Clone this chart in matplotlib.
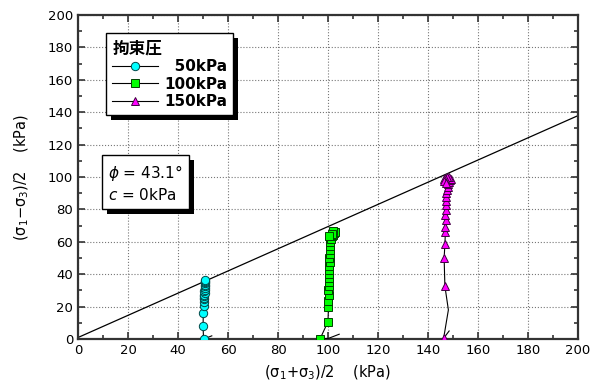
import matplotlib
matplotlib.use('Agg')
import matplotlib.pyplot as plt
from matplotlib.patches import Shadow
import numpy as np

plt.rcParams['font.family'] = ['DejaVu Sans', 'Noto Sans CJK JP']
plt.rcParams['mathtext.fontset'] = 'dejavusans'

# データ (p = (σ1+σ3)/2, q = (σ1-σ3)/2)
p50 = [53.5, 50.2, 50.0, 50.1, 50.3, 50.2, 50.4, 50.3, 50.5, 50.4, 50.6, 50.5,
       50.7, 50.6, 50.8, 50.7, 50.9, 50.8, 50.6, 50.7]
q50 = [2.0, 0.0, 8.0, 16.0, 20.5, 23.0, 24.5, 25.5, 26.5, 27.5, 28.5, 29.5,
       30.5, 31.5, 32.5, 33.5, 34.5, 35.3, 36.0, 36.5]

p100 = [104.5, 100.3, 96.8, 100.0, 100.2, 100.1, 100.3, 100.2, 100.4, 100.3,
        100.5, 100.4, 100.6, 100.5, 100.7, 100.6, 100.8, 100.7, 100.9, 101.0,
        101.2, 101.5, 102.0, 102.5, 102.8, 102.2, 101.6, 100.4]
q100 = [3.0, 0.5, 0.0, 10.7, 20.0, 23.7, 27.0, 30.0, 32.5, 35.0, 37.5, 40.0,
        42.5, 45.0, 47.5, 50.0, 52.5, 55.0, 57.5, 60.0, 62.0, 63.5, 64.5,
        65.5, 66.0, 66.5, 65.0, 63.8]

p150 = [148.5, 146.3, 148.2, 146.8, 146.5, 146.8, 147.0, 146.9, 147.1, 147.0,
        147.2, 147.1, 147.3, 147.2, 147.4, 147.6, 147.9, 148.2, 148.6, 149.0,
        149.2, 148.6, 147.8, 147.0, 146.3, 146.6, 147.2]
q150 = [5.0, 0.5, 18.0, 32.7, 49.8, 58.5, 65.8, 69.3, 73.4, 76.5, 79.6, 82.5,
        85.0, 87.5, 90.0, 92.0, 94.0, 95.5, 97.0, 98.0, 99.0, 99.8, 100.0,
        99.5, 98.5, 97.5, 96.5]

series = [
    ('\u200750kPa', p50, q50, 'o', '#00FFFF', '#004848', [i for i in range(1, len(p50))]),
    ('100kPa', p100, q100, 's', '#00FF00', '#004000', [i for i in range(2, len(p100))]),
    ('150kPa', p150, q150, '^', '#FF00FF', '#400040', [1] + [i for i in range(3, len(p150))]),
]

# 破壊線
phi_deg = 43.1
line_slope = 0.684
line_icpt = 1.0
x_line = np.array([0, 200])

fig = plt.figure(figsize=(5.92, 3.92), dpi=100)
ax = fig.add_axes([0.132, 0.135, 0.844, 0.827])

ax.plot(x_line, line_icpt + line_slope * x_line, color='black', lw=0.9, zorder=2)

handles = []
for label, x, y, mk, fc, ec, mev in series:
    h, = ax.plot(x, y, color='black', lw=0.8, marker=mk, markersize=6,
                 markerfacecolor=fc, markeredgecolor=ec, markeredgewidth=0.7,
                 markevery=mev, label=label, zorder=3)
    handles.append(h)

ax.set_xlim(0, 200)
ax.set_ylim(0, 200)
ax.set_xticks(np.arange(0, 201, 20))
ax.set_yticks(np.arange(0, 201, 20))
ax.set_xticks(np.arange(0, 201, 10), minor=True)
ax.set_yticks(np.arange(0, 201, 10), minor=True)
ax.tick_params(which='both', direction='in', top=True, right=True,
               width=1.2, color='#333333', labelsize=9.5)
ax.tick_params(which='major', length=5)
ax.tick_params(which='minor', length=3)
for s in ax.spines.values():
    s.set_linewidth(1.6)
    s.set_color('#333333')
ax.grid(which='major', linestyle=':', color='#777777', linewidth=0.8)

ax.set_xlabel(r'(σ$_1$+σ$_3$)/2    (kPa)', fontsize=10.5, labelpad=5)
ax.set_ylabel(r'(σ$_1$−σ$_3$)/2    (kPa)', fontsize=10.5, labelpad=12)

leg = ax.legend(handles=handles, title='拘束圧', loc='upper left',
                bbox_to_anchor=(0.056, 0.944), borderaxespad=0,
                fancybox=False, framealpha=1, edgecolor='black',
                prop={'weight': 'bold', 'size': 11},
                handlelength=3.0, handletextpad=0.4, labelspacing=0.15,
                borderpad=0.4, alignment='left')
leg.get_frame().set_linewidth(1.0)
leg.get_title().set_fontfamily(['Noto Sans CJK JP'])
leg.get_title().set_fontweight('bold')
leg.get_title().set_fontsize(12)
leg.set_zorder(10)

txt = ax.text(0.06, 0.543, r'$\phi$ = 43.1°' + '\n' + r'$c$ = 0kPa',
              transform=ax.transAxes, ha='left', va='top', fontsize=11,
              linespacing=1.3, zorder=10,
              bbox=dict(boxstyle='square,pad=0.4', facecolor='white',
                        edgecolor='black', linewidth=1.0))

fig.canvas.draw()
for patch in [leg.legendPatch, txt.get_bbox_patch()]:
    sh = Shadow(patch, 3.5, -3.5, facecolor='black', edgecolor='none', alpha=1)
    sh.set_zorder(9)
    ax.add_artist(sh)

fig.savefig('out.png', dpi=100)
